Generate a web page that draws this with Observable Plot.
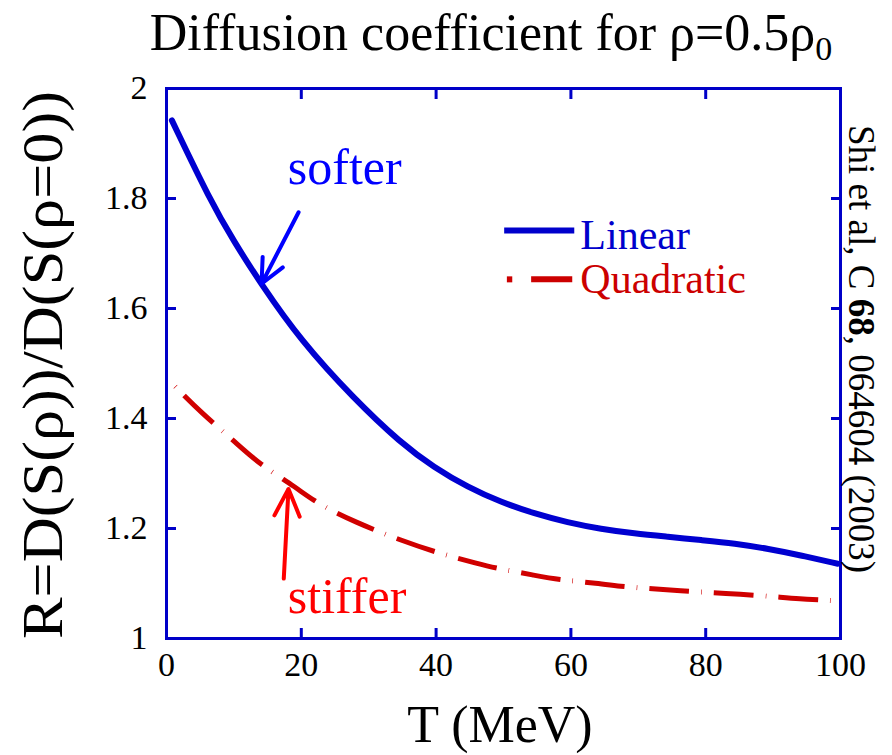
<!DOCTYPE html>
<html>
<head>
<meta charset="utf-8">
<script src="https://cdn.jsdelivr.net/npm/d3@7"></script>
<script src="https://cdn.jsdelivr.net/npm/@observablehq/plot@0.6"></script>
<style>
  html, body { margin: 0; padding: 0; background: #fff; }
  #chart svg { display: block; }
  #chart svg text { font-family: "Liberation Serif", "Times New Roman", serif; }
</style>
</head>
<body>
<div id="chart"></div>
<script>
// ---- data ----
const T_linear = [0.8, 6.5, 10, 14, 19.9, 27.8, 34.8, 39.7, 44.7, 49.6, 54.6, 59.5, 64.5, 69.4, 74.4, 79.3, 84.3, 89.3, 94.2, 99.6];
const R_linear = [1.942, 1.796, 1.722, 1.645, 1.542, 1.436, 1.355, 1.311, 1.275, 1.248, 1.227, 1.211, 1.199, 1.191, 1.185, 1.179, 1.173, 1.163, 1.151, 1.136];

const T_quadratic = [1.3, 5.1, 10.5, 13.7, 19.2, 22.4, 28.1, 34.8, 40.7, 46.2, 49.2, 54.6, 58.1, 63.6, 67.1, 72.4, 76, 81.3, 84.8, 90.2, 93.7, 98.8];
const R_quadratic = [1.458, 1.411, 1.354, 1.318, 1.275, 1.245, 1.211, 1.178, 1.154, 1.136, 1.127, 1.115, 1.107, 1.101, 1.095, 1.090, 1.087, 1.083, 1.081, 1.076, 1.072, 1.069];

const xTicks = [0, 20, 40, 60, 80, 100];
const yTicks = [1, 1.2, 1.4, 1.6, 1.8, 2];
const xInner = [20, 40, 60, 80];
const yInner = [1.2, 1.4, 1.6, 1.8];

const seriesNames = ["Linear", "Quadratic"];
const annotationLabels = ["softer", "stiffer"];
// annotation anchor points in data units (T, R)
const annotArrows = [
  {x1: 19.6, y1: 1.775, x2: 14.1, y2: 1.645, c: "#0000ff"},
  {x1: 17.4, y1: 1.109, x2: 18.1, y2: 1.272, c: "#ff0000"}
];
const annotText = [
  {x: 18.0, y: 1.827, label: annotationLabels[0], c: "#0000ff"},
  {x: 18.0, y: 1.047, label: annotationLabels[1], c: "#ff0000"}
];
const legendSwatch = [
  {x1: 50.1, x2: 60.5, y: 1.742, c: "#0000cc"},
  {x1: 50.5, x2: 51.3, y: 1.653, c: "#cc0000"},
  {x1: 54.1, x2: 60.2, y: 1.653, c: "#cc0000"}
];
const legendText = [
  {x: 61.4, y: 1.709, label: seriesNames[0], c: "#0000cc"},
  {x: 61.4, y: 1.628, label: seriesNames[1], c: "#cc0000"}
];

const linear = T_linear.map((t, i) => ({T: t, R: R_linear[i]}));
const quadratic = T_quadratic.map((t, i) => ({T: t, R: R_quadratic[i]}));

const frameBlue = "#0000c8";
const serif = "Liberation Serif, Times New Roman, serif";

const plot = Plot.plot({
  width: 892,
  height: 755,
  marginLeft: 166,
  marginRight: 52,
  marginTop: 88,
  marginBottom: 117,
  x: {domain: [0, 100]},
  y: {domain: [1, 2]},
  style: {fontFamily: serif, fontSize: "34px", background: "#fff", color: "#000"},
  marks: [
    // tick labels
    Plot.axisX({anchor: "bottom", ticks: xTicks, tickSize: 0, tickPadding: 13, tickFormat: d => String(d), label: null, fill: "#000", fontSize: 34}),
    Plot.axisY({anchor: "left", ticks: yTicks, tickSize: 0, tickPadding: 19, tickFormat: d => String(d), label: null, fill: "#000", fontSize: 34}),
    // inward ticks on all four sides
    Plot.axisX({anchor: "bottom", ticks: xInner, tickSize: -10, tickFormat: () => "", label: null, stroke: frameBlue, strokeWidth: 3}),
    Plot.axisX({anchor: "top", ticks: xInner, tickSize: -10, tickFormat: () => "", label: null, stroke: frameBlue, strokeWidth: 3}),
    Plot.axisY({anchor: "left", ticks: yInner, tickSize: -10, tickFormat: () => "", label: null, stroke: frameBlue, strokeWidth: 3}),
    Plot.axisY({anchor: "right", ticks: yInner, tickSize: -10, tickFormat: () => "", label: null, stroke: frameBlue, strokeWidth: 3}),
    // curves
    Plot.line(quadratic, {x: "T", y: "R", stroke: "#d00000", strokeWidth: 5, curve: "basis", strokeDasharray: "40,12,0.6,12", strokeDashoffset: 52, strokeLinecap: "butt"}),
    Plot.line(linear, {x: "T", y: "R", stroke: "#0000d0", strokeWidth: 6, curve: "basis"}),
    // annotations
    Plot.arrow(annotArrows, {x1: "x1", y1: "y1", x2: "x2", y2: "y2", stroke: "c", strokeWidth: 4, headLength: 14, headAngle: 50}),
    Plot.text(annotText, {x: "x", y: "y", text: "label", fill: "c", fontSize: 50, textAnchor: "start", lineAnchor: "bottom"}),
    // legend
    Plot.link(legendSwatch, {x1: "x1", x2: "x2", y1: "y", y2: "y", stroke: "c", strokeWidth: 6}),
    Plot.text(legendText, {x: "x", y: "y", text: "label", fill: "c", fontSize: 42, textAnchor: "start", lineAnchor: "bottom"}),
    Plot.frame({stroke: frameBlue, strokeWidth: 3})
  ]
});

document.getElementById("chart").appendChild(plot);

// titles and labels
const svg = d3.select(plot);
const title = svg.append("text")
  .attr("x", 491).attr("y", 50)
  .attr("text-anchor", "middle")
  .attr("font-size", 52).attr("fill", "#000");
title.append("tspan").text("Diffusion coefficient for ρ=0.5ρ");
title.append("tspan").attr("font-size", 34).attr("dy", 10).text("0");

svg.append("text")
  .attr("x", 500).attr("y", 742)
  .attr("text-anchor", "middle")
  .attr("font-size", 52).attr("fill", "#000")
  .text("T (MeV)");

svg.append("text")
  .attr("transform", "translate(62,365) rotate(-90)")
  .attr("text-anchor", "middle")
  .attr("font-size", 58).attr("fill", "#000")
  .attr("textLength", 548).attr("lengthAdjust", "spacingAndGlyphs")
  .text("R=D(S(ρ))/D(S(ρ=0))");

const ref = svg.append("text")
  .attr("transform", "translate(849,125) rotate(90)")
  .attr("text-anchor", "start")
  .attr("font-size", 37).attr("fill", "#000");
ref.append("tspan").text("Shi et al, C ");
ref.append("tspan").attr("font-weight", "bold").text("68");
ref.append("tspan").text(", 064604 (2003)");
</script>
</body>
</html>
